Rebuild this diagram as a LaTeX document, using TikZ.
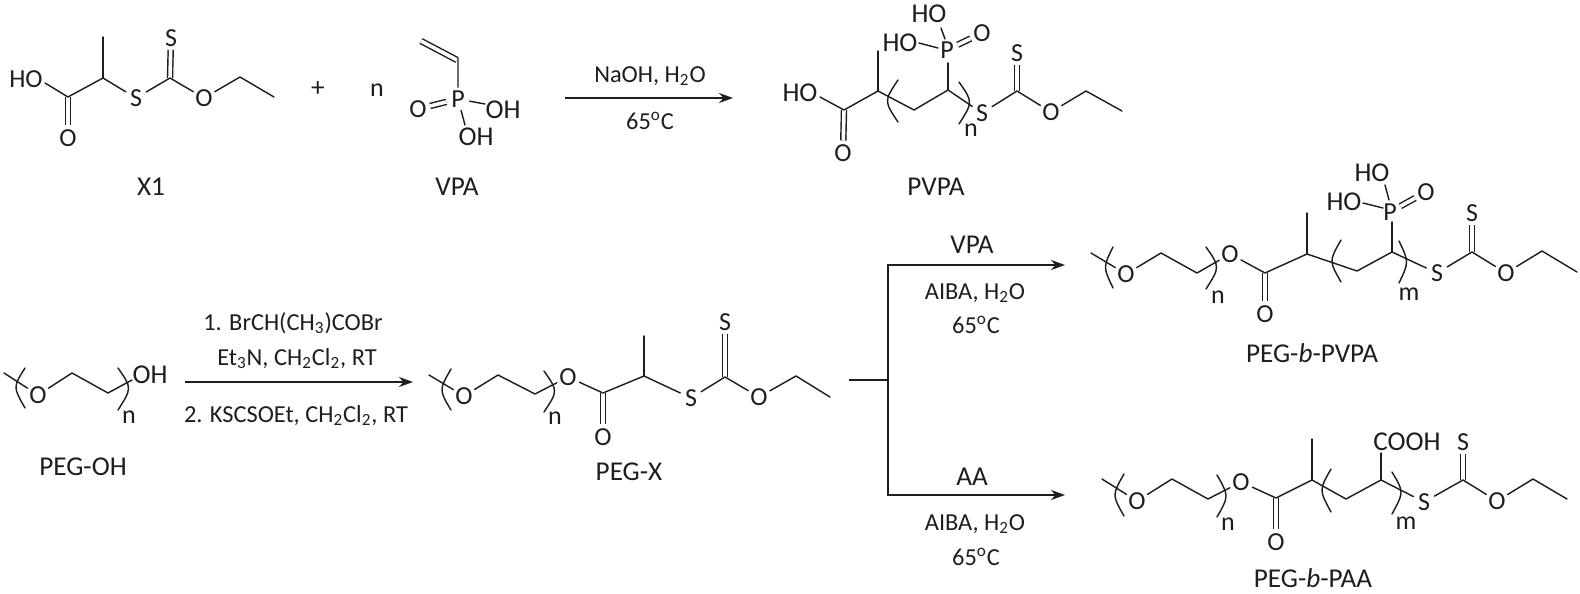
\documentclass[tikz,border=0pt]{standalone}
\usepackage{fontspec}
\setmainfont{Carlito}
\usetikzlibrary{arrows.meta}
\definecolor{ink}{HTML}{1E1E1E}
\tikzset{
  bond/.style={draw=ink,line width=0.72pt,line cap=round,line join=round},
  dbond/.style={draw=ink,line width=0.72pt,double,double distance=1.8pt},
  rxn/.style={draw=ink,line width=1.05pt,-{Stealth[length=7pt,width=5pt]}},
  rxnline/.style={draw=ink,line width=1.05pt},
  atom/.style={circle,inner sep=0pt,minimum size=11.5pt,text=ink,font=\fontsize{13}{15}\selectfont},
  lab/.style={anchor=base,inner sep=0pt,text=ink,font=\fontsize{13.6}{15}\selectfont},
  rgt/.style={anchor=base,inner sep=0pt,text=ink,font=\fontsize{12.2}{15}\selectfont}
}
\newcommand{\At}[4]{\node[atom] (#1) at (#2,#3) {#4};}
\newcommand{\Pt}[3]{\coordinate (#1) at (#2,#3);}
\newcommand{\Lab}[4]{\node[lab] (#1) at (#2,#3+8.5) {#4};}
\newcommand{\Rg}[4]{\node[rgt] (#1) at (#2,#3+8) {#4};}
\newcommand{\Paren}[5]{\draw[bond] (#1,#2) .. controls (2*#3-#1,#4) .. (#1,#5);}
\newcommand{\Ho}{H\textsubscript{2}O}
\newcommand{\Deg}{65\textsuperscript{o}C}
\begin{document}
\begin{tikzpicture}[x=0.5pt,y=-0.5pt]
\useasboundingbox (0,0) rectangle (1580,594);
% ---- X1
\At{aO}{68}{138}{O}\At{aS}{136}{98}{S}\At{aSd}{171}{38}{S}\At{aOe}{204}{98}{O}
\node[atom,rectangle] (aHO) at (26,79) {HO};\Lab{aName}{151}{187}{X1}
\Pt{aHOe}{45}{83}\Pt{aC}{68}{97}\Pt{aCH}{103}{78}\Pt{aMe}{103}{37}\Pt{aCS}{170}{78}\Pt{aE1}{240}{77}\Pt{aE2}{274}{97}
\draw[dbond] (aC) -- (aO);
\draw[dbond] (aCS) -- (aSd);
\draw[bond] (aHOe) -- (aC) -- (aCH) -- (aS);
\draw[bond] (aCH) -- (aMe);
\draw[bond] (aS) -- (aCS) -- (aOe) -- (aE1) -- (aE2);
\Lab{plus}{318}{88}{+}\node[atom] (nVPA) at (377,90) {n};
% ---- VPA
\At{vP}{458}{99}{P}\At{vO}{418}{109}{O}\Lab{vOH1}{503}{110}{OH}\Lab{vOH2}{476}{137}{OH}\Lab{vName}{457}{187}{VPA}
\Pt{vA}{421}{41}\Pt{vB}{457}{60}\Pt{vC}{458}{58}\Pt{vE1}{485}{104}\Pt{vE2}{465}{125}
\draw[dbond] (vA) -- (vB);
\draw[dbond] (vO) -- (vP);
\draw[bond] (vC) -- (vP) -- (vE1);
\draw[bond] (vP) -- (vE2);
% ---- arrow 1
\Pt{r1a}{565}{98}\Pt{r1b}{733}{98}
\draw[rxn] (r1a) -- (r1b);
\Rg{r1t}{650}{74}{NaOH, \Ho}\Rg{r1u}{650}{121}{\Deg}
% ---- PVPA
\At{pO}{843}{153}{O}\At{pP}{947}{50}{P}\At{pOd}{982}{33}{O}\At{pS}{982}{113}{S}\At{pSd}{1017}{53}{S}\At{pOe}{1051}{112}{O}
\Lab{pHO}{800}{93}{HO}\Lab{pHO1}{900}{43}{HO}\Lab{pHO2}{929}{14}{HO}\Lab{pName}{936}{187}{PVPA}
\node[atom] (pn) at (971,130) {n};
\Pt{pHOe}{820}{97}\Pt{pC}{844}{110}\Pt{pCH}{878}{91}\Pt{pMe}{878}{51}\Pt{pCH2}{914}{110}\Pt{pCH3}{948}{90}\Pt{pU}{948}{63}
\Pt{pE1}{919}{43}\Pt{pE1b}{938}{48}\Pt{pE2}{941}{28}\Pt{pE2b}{945}{39}
\Pt{pCS}{1017}{91}\Pt{pX1}{1086}{91}\Pt{pX2}{1122}{111}
\draw[dbond] (pC) -- (pO);
\draw[dbond] (pP) -- (pOd);
\draw[dbond] (pCS) -- (pSd);
\draw[bond] (pHOe) -- (pC) -- (pCH) -- (pCH2) -- (pCH3) -- (pS);
\draw[bond] (pCH) -- (pMe);
\draw[bond] (pCH3) -- (pU);
\draw[bond] (pE1) -- (pE1b);
\draw[bond] (pE2) -- (pE2b);
\draw[bond] (pS) -- (pCS) -- (pOe) -- (pX1) -- (pX2);
\Paren{898}{80}{891}{101}{122}
\Paren{959}{82}{966}{102}{124}
% ---- PEG-OH
\At{gO}{38}{395}{O}\Lab{gOH}{150}{375}{OH}\Lab{gName}{83}{467}{PEG-OH}
\node[atom] (gn) at (129,417) {n};
\Pt{gS}{4}{373}\Pt{g1}{72}{373}\Pt{g2}{108}{393}\Pt{g3}{132}{380}
\draw[bond] (gS) -- (gO) -- (g1) -- (g2) -- (g3);
\Paren{25}{368}{19}{387}{408}
\Paren{118}{368}{125}{388}{410}
% ---- arrow 2
\Pt{r2a}{185}{382}\Pt{r2b}{413}{382}
\draw[rxn] (r2a) -- (r2b);
\Rg{r2t}{293}{322}{1. BrCH(CH\textsubscript{3})COBr}
\Rg{r2u}{297}{357}{Et\textsubscript{3}N, CH\textsubscript{2}Cl\textsubscript{2}, RT}
\Rg{r2v}{296}{414}{2. KSCSOEt, CH\textsubscript{2}Cl\textsubscript{2}, RT}
% ---- PEG-X
\At{xO}{464}{396}{O}\At{xOm}{568}{377}{O}\At{xOd}{603}{437}{O}\At{xS}{691}{398}{S}\At{xSd}{725}{322}{S}\At{xOe}{759}{397}{O}
\node[atom] (xn) at (555,418) {n};
\Lab{xName}{629}{472}{PEG-X}
\Pt{xSt}{429}{375}\Pt{x1}{498}{375}\Pt{x2}{535}{394}\Pt{xC}{603}{393}\Pt{xCH}{644}{376}\Pt{xMe}{644}{336}\Pt{xCS}{725}{377}\Pt{xE1}{796}{376}\Pt{xE2}{830}{397}
\draw[dbond] (xC) -- (xOd);
\draw[dbond] (xCS) -- (xSd);
\draw[bond] (xSt) -- (xO) -- (x1) -- (x2) -- (xOm) -- (xC) -- (xCH) -- (xS) -- (xCS) -- (xOe) -- (xE1) -- (xE2);
\draw[bond] (xCH) -- (xMe);
\Paren{451}{369}{445}{390}{410}
\Paren{544}{371}{551}{391}{412}
% ---- fork
\Pt{fIn}{849}{380}\Pt{fJ}{888}{380}\Pt{fT}{888}{265}\Pt{fB}{888}{495}\Pt{fTe}{1065}{265}\Pt{fBe}{1065}{495}
\draw[rxnline] (fIn) -- (fJ);
\draw[rxn] (fJ) -- (fT) -- (fTe);
\draw[rxn] (fJ) -- (fB) -- (fBe);
\Lab{f1}{972}{245}{VPA}\Rg{f2}{975}{291}{AIBA, \Ho}\Rg{f3}{976}{325}{\Deg}
\Lab{f4}{972}{477}{AA}\Rg{f5}{975}{522}{AIBA, \Ho}\Rg{f6}{976}{557}{\Deg}
% ---- PEG-b-PVPA
\At{bO}{1126}{274}{O}\At{bOm}{1230}{254}{O}\At{bOd}{1265}{314}{O}\At{bP}{1390}{212}{P}\At{bOp}{1426}{192}{O}\At{bS}{1437}{273}{S}\At{bSd}{1472}{213}{S}\At{bOe}{1506}{273}{O}
\node[atom] (bn) at (1218,297) {n};\node[atom] (bm) at (1409,294) {m};
\Lab{bHO1}{1372}{173}{HO}\Lab{bHO2}{1344}{202}{HO}\Lab{bName}{1312}{354}{PEG-\textit{b}-PVPA}
\Pt{bSt}{1091}{253}\Pt{b1}{1161}{253}\Pt{b2}{1197}{273}\Pt{bC}{1265}{273}\Pt{bCH}{1307}{254}\Pt{bMe}{1307}{213}\Pt{bCH2}{1357}{271}\Pt{bCH3}{1392}{252}\Pt{bU}{1392}{222}
\Pt{bA1}{1385}{185}\Pt{bA2}{1389}{200}\Pt{bB1}{1363}{203}\Pt{bB2}{1383}{208}
\Pt{bCS}{1472}{252}\Pt{bE1}{1542}{251}\Pt{bE2}{1577}{272}
\draw[dbond] (bC) -- (bOd);
\draw[dbond] (bP) -- (bOp);
\draw[dbond] (bCS) -- (bSd);
\draw[bond] (bSt) -- (bO) -- (b1) -- (b2) -- (bOm) -- (bC) -- (bCH) -- (bCH2) -- (bCH3) -- (bS) -- (bCS) -- (bOe) -- (bE1) -- (bE2);
\draw[bond] (bCH) -- (bMe);
\draw[bond] (bCH3) -- (bU);
\draw[bond] (bA1) -- (bA2);
\draw[bond] (bB1) -- (bB2);
\Paren{1113}{247}{1108}{267}{288}
\Paren{1206}{247}{1213}{267}{289}
\Paren{1341}{240}{1335}{261}{282}
\Paren{1399}{241}{1404}{262}{283}
% ---- PEG-b-PAA
\At{cO}{1137}{501}{O}\At{cOm}{1241}{482}{O}\At{cOd}{1276}{542}{O}\At{cS}{1424}{502}{S}\At{cSd}{1463}{442}{S}\At{cOe}{1497}{501}{O}
\node[atom] (cn) at (1228,524) {n};\node[atom] (cm) at (1406,523) {m};
\Lab{cCOOH}{1407}{442}{COOH}\Lab{cName}{1313}{579}{PEG-\textit{b}-PAA}
\Pt{cSt}{1102}{479}\Pt{c1}{1172}{479}\Pt{c2}{1208}{499}\Pt{cC}{1276}{498}\Pt{cCH}{1312}{480}\Pt{cMe}{1312}{439}\Pt{cCH2}{1346}{499}\Pt{cCH3}{1381}{480}\Pt{cU}{1381}{453}
\Pt{cCS}{1463}{480}\Pt{cE1}{1533}{479}\Pt{cE2}{1567}{499}
\draw[dbond] (cC) -- (cOd);
\draw[dbond] (cCS) -- (cSd);
\draw[bond] (cSt) -- (cO) -- (c1) -- (c2) -- (cOm) -- (cC) -- (cCH) -- (cCH2) -- (cCH3) -- (cS) -- (cCS) -- (cOe) -- (cE1) -- (cE2);
\draw[bond] (cCH) -- (cMe);
\draw[bond] (cCH3) -- (cU);
\Paren{1124}{474}{1118}{495}{516}
\Paren{1217}{475}{1223}{496}{517}
\Paren{1331}{469}{1325}{490}{512}
\Paren{1392}{472}{1398}{492}{514}
\end{tikzpicture}
\end{document}
